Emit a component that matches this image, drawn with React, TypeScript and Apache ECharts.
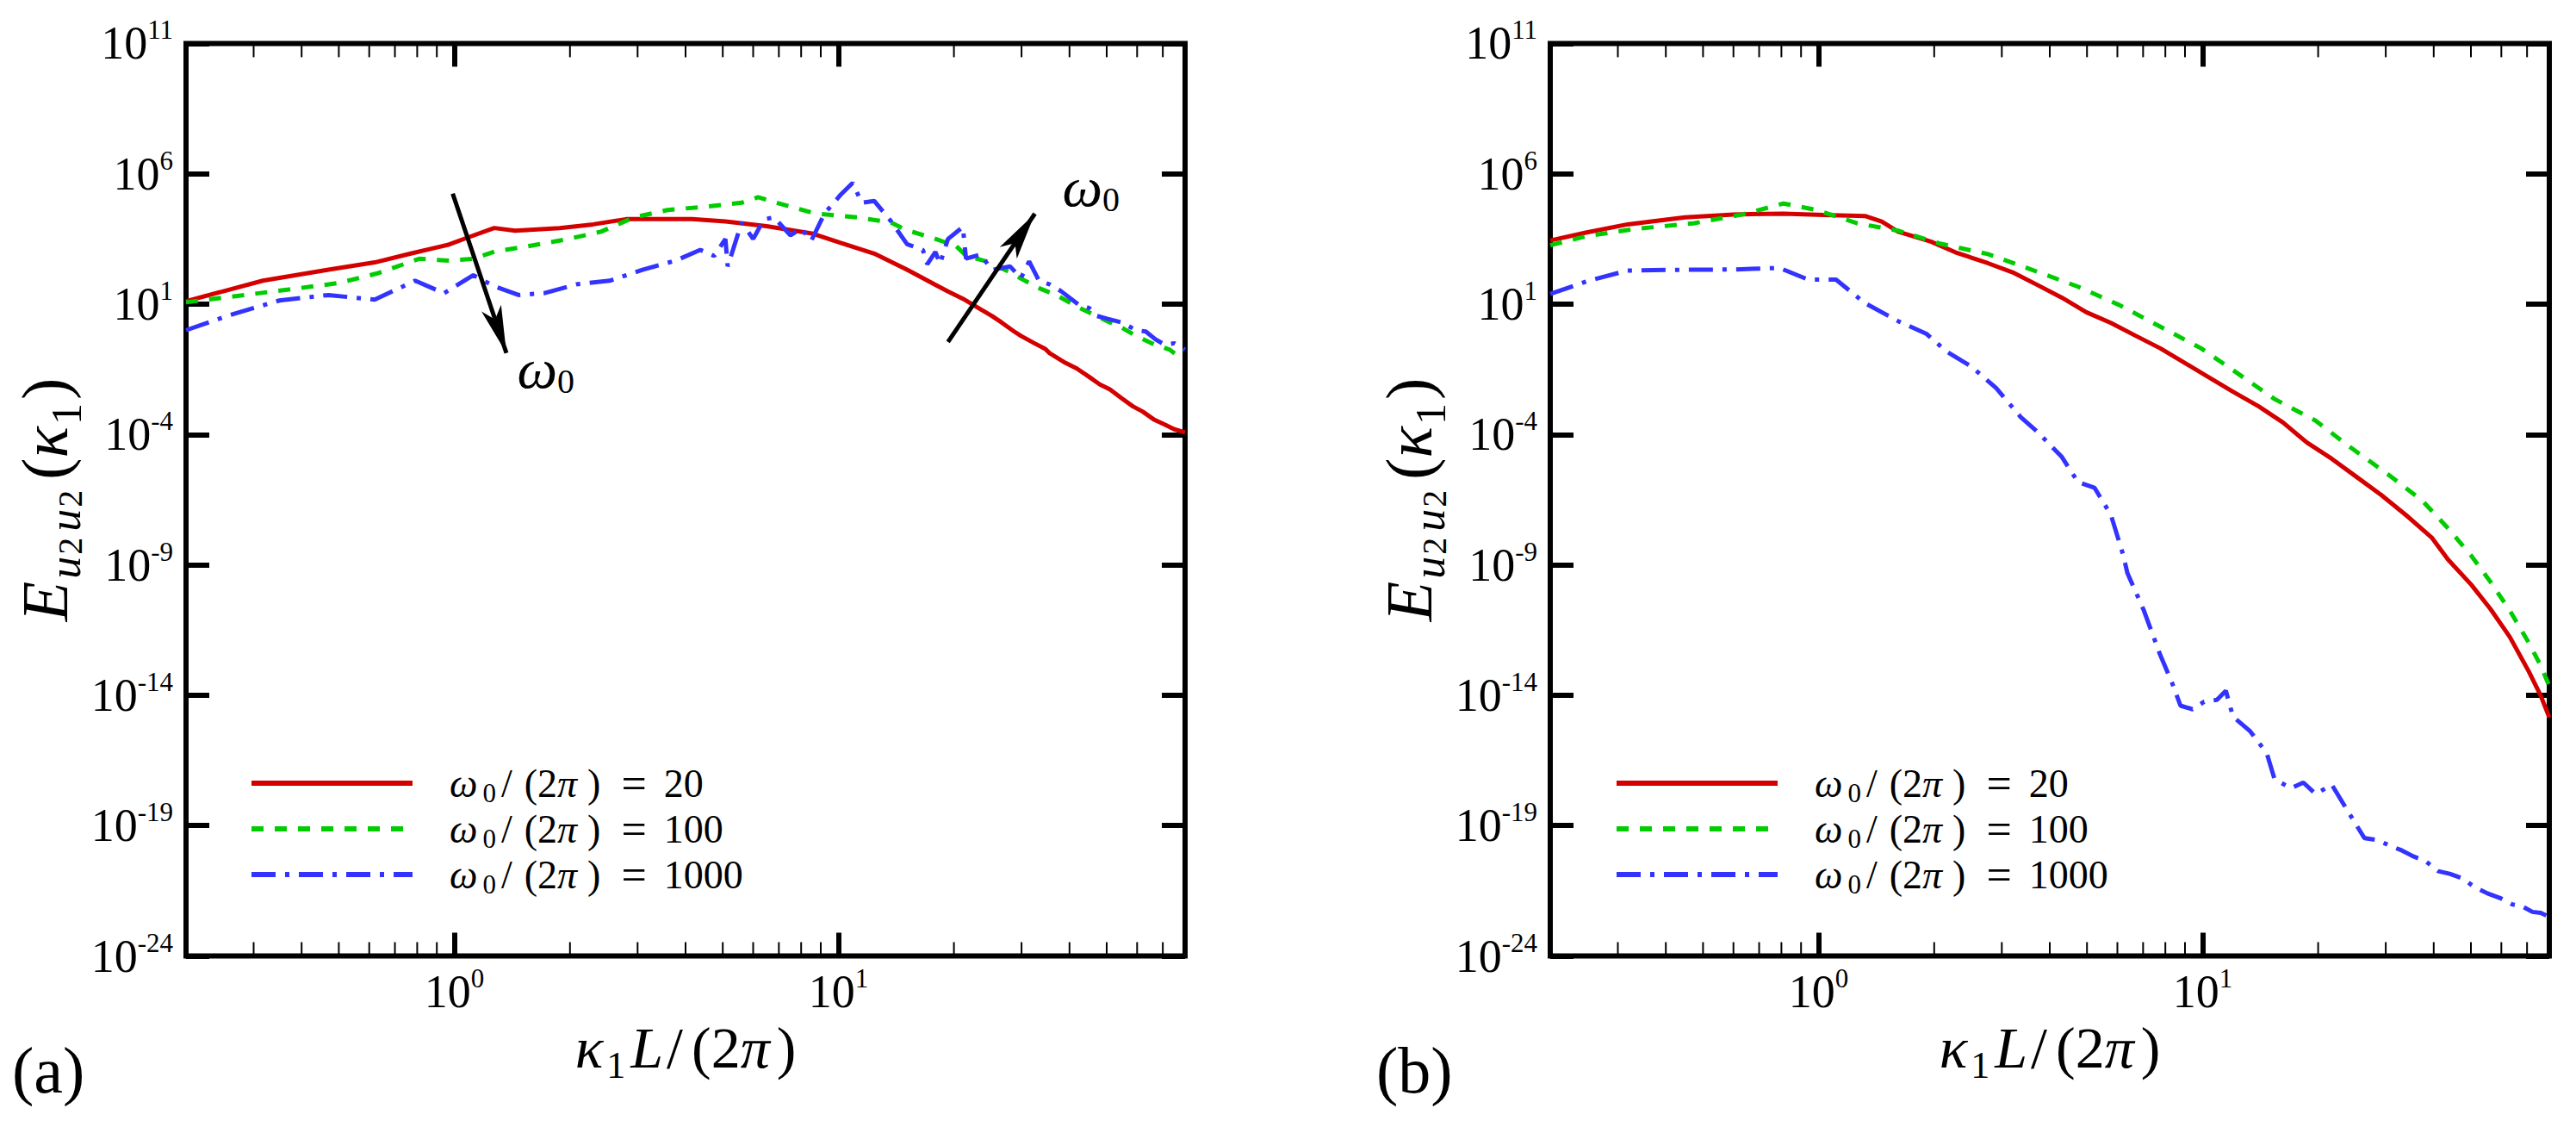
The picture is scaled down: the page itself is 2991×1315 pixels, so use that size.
import React, { useEffect, useRef } from "react";
import * as echarts from "echarts";

// legend values
const omegaRatios = [20, 100, 1000];
const seriesNames = omegaRatios.map((v) => `ω0/(2π) = ${v}`);
const colors = ["#d40000", "#00cc00", "#3333ff"];

// x values are kappa1 L/(2pi), y values are log10 of E_u2u2
// panel (a)
const aRedK = [0.2, 0.317, 0.47, 0.62, 0.77, 0.97, 1.09, 1.27, 1.44, 1.88, 2.3, 2.8, 3.41, 4.16, 5.08, 6.5, 8.53, 10.1, 12.4, 15.1, 17.8, 19.3, 21.1, 23.5, 25.1, 26.6, 28.7, 29.9, 32.4, 34.6, 35.5, 39.0, 41.8, 44.9, 48.0, 51.0, 54.7, 58.5, 62.0, 66.6, 71.0, 75.0, 80];
const aRedE = [1.11, 1.9, 2.32, 2.6, 2.94, 3.29, 3.57, 3.92, 3.82, 3.92, 4.06, 4.26, 4.26, 4.26, 4.17, 3.99, 3.71, 3.36, 2.94, 2.32, 1.76, 1.49, 1.21, 0.8, 0.55, 0.3, -0.05, -0.22, -0.5, -0.72, -0.88, -1.25, -1.47, -1.78, -2.08, -2.27, -2.61, -2.92, -3.12, -3.44, -3.63, -3.8, -3.92];

const aGreenK = [0.2, 0.26, 0.37, 0.5, 0.63, 0.81, 0.97, 1.12, 1.27, 1.55, 1.98, 2.41, 2.94, 3.59, 4.59, 5.6, 6.18, 7.17, 8.75, 11.2, 13.7, 15.0, 17.8, 20.3, 21.5, 24.8, 27.3, 29.9, 33.5, 36.8, 42.2, 47.0, 50.1, 54.7, 59.6, 66.6, 73.0, 76.8, 80];
const aGreenE = [1.07, 1.28, 1.56, 1.81, 2.18, 2.74, 2.67, 2.74, 3.01, 3.22, 3.5, 3.78, 4.33, 4.61, 4.75, 4.89, 5.1, 4.82, 4.47, 4.33, 4.13, 3.85, 3.52, 3.22, 2.86, 2.6, 2.3, 1.98, 1.6, 1.36, 0.88, 0.55, 0.35, 0.1, -0.22, -0.55, -0.75, -0.99, -1.0];

const aBlueK = [0.2, 0.26, 0.35, 0.47, 0.62, 0.79, 0.94, 1.12, 1.27, 1.47, 1.71, 2.08, 2.54, 3.09, 3.77, 4.37, 4.75, 5.08, 5.15, 5.6, 6.0, 6.4, 6.8, 7.5, 8.0, 8.5, 9.2, 10.1, 10.9, 11.5, 12.4, 13.7, 15.1, 16.6, 17.05, 17.9, 18.4, 19.3, 21.1, 21.5, 23.5, 25.1, 28.0, 29.9, 31.4, 33.3, 35.5, 38.0, 42.2, 45.0, 47.1, 50.1, 54.7, 59.6, 63.2, 67.0, 70.7, 75.0, 80];
const aBlueE = [0.0, 0.58, 1.14, 1.35, 1.17, 1.9, 1.42, 2.11, 1.69, 1.35, 1.42, 1.76, 1.9, 2.32, 2.67, 3.08, 2.85, 3.5, 2.45, 4.13, 3.5, 4.25, 4.33, 3.64, 3.9, 3.43, 4.47, 5.17, 5.65, 4.89, 4.96, 4.19, 3.3, 3.08, 2.53, 3.0, 2.55, 3.5, 3.96, 2.75, 2.9, 2.31, 2.45, 2.0, 2.64, 1.9, 1.76, 1.5, 0.99, 0.85, 0.55, 0.44, 0.3, 0.0, -0.05, -0.35, -0.55, -0.5, -0.75];

// panel (b)
const bRedK = [0.2, 0.249, 0.318, 0.449, 0.6, 0.81, 1.03, 1.32, 1.46, 1.61, 1.96, 2.27, 2.76, 3.2, 3.71, 4.3, 4.98, 5.77, 6.69, 7.75, 8.98, 10.4, 12.0, 14.0, 16.2, 18.7, 21.7, 25.2, 29.2, 33.8, 39.5, 43.6, 50.1, 56.2, 63.1, 70.8, 75.9, 80];
const bRedE = [3.44, 3.75, 4.06, 4.33, 4.44, 4.47, 4.42, 4.38, 4.17, 3.78, 3.4, 2.99, 2.57, 2.22, 1.74, 1.25, 0.69, 0.28, -0.21, -0.69, -1.25, -1.81, -2.36, -2.92, -3.54, -4.31, -4.93, -5.63, -6.32, -7.08, -7.95, -8.8, -9.76, -10.69, -11.76, -13.1, -14.0, -14.85];

const bGreenK = [0.2, 0.249, 0.335, 0.472, 0.634, 0.81, 0.99, 1.26, 1.61, 2.06, 2.76, 3.53, 4.74, 6.06, 7.75, 9.9, 12.0, 15.4, 19.7, 24.0, 30.6, 37.3, 43.6, 50.1, 56.2, 63.1, 70.8, 75.9, 80];
const bGreenE = [3.26, 3.61, 3.89, 4.1, 4.44, 4.86, 4.61, 4.1, 3.82, 3.33, 2.92, 2.36, 1.67, 0.97, 0.14, -0.69, -1.53, -2.64, -3.47, -4.44, -5.56, -6.53, -7.6, -8.65, -9.65, -10.75, -12.0, -12.85, -13.65];

const bBlueK = [0.2, 0.249, 0.318, 0.449, 0.6, 0.79, 0.94, 1.11, 1.32, 1.61, 1.91, 2.16, 2.5, 2.9, 3.36, 3.71, 4.3, 4.74, 5.23, 5.77, 6.21, 6.37, 7.02, 7.74, 8.34, 8.76, 9.42, 10.1, 10.9, 11.5, 12.0, 13.3, 14.7, 15.4, 17.0, 18.3, 19.7, 21.7, 24.0, 26.4, 28.5, 30.6, 33.0, 35.5, 38.0, 41.1, 44.0, 47.6, 51.0, 55.2, 60.0, 64.0, 68.0, 72.3, 76.0, 80];
const bBlueE = [1.39, 1.875, 2.29, 2.32, 2.33, 2.39, 1.94, 1.94, 1.04, 0.35, -0.14, -0.83, -1.39, -2.22, -3.33, -3.89, -4.86, -5.83, -6.04, -7.08, -8.61, -9.31, -10.72, -12.42, -13.55, -14.4, -14.54, -14.25, -14.18, -13.83, -14.82, -15.38, -16.23, -17.22, -17.57, -17.35, -17.79, -17.43, -18.49, -19.48, -19.55, -19.76, -19.95, -20.19, -20.35, -20.75, -20.85, -21.03, -21.35, -21.6, -21.8, -22.02, -22.1, -22.31, -22.35, -22.5];

// axis ticks
const minorTicks = [0.3, 0.4, 0.5, 0.6, 0.7, 0.8, 0.9, 2, 3, 4, 5, 6, 7, 8, 9, 20, 30, 40, 50, 60, 70];
const yMinExp = -24;
const yMaxExp = 11;
const yStepExp = 5;

// arrows and labels in panel (a): [k, log10 E], arrow tip at "to"
const arrowsA = [
  { from: [0.99, 5.24], to: [1.366, -0.875] },
  { from: [19.3, -0.45], to: [32.5, 4.47] },
];
const omegaLabelsA = [
  [1.73, -1.45],
  [45.5, 5.5],
];

const serif = "Liberation Serif";

const pair = (k: number[], e: number[]) => k.map((x, i) => [x, e[i]]);

const tickRich = {
  b: { fontFamily: serif, fontSize: 54, lineHeight: 62, color: "#000" },
  s: { fontFamily: serif, fontSize: 31, lineHeight: 31, verticalAlign: "top", color: "#000" },
};

const xTitleRich = {
  i: { fontFamily: serif, fontStyle: "italic", fontSize: 68, lineHeight: 84, color: "#000" },
  L: { fontFamily: serif, fontStyle: "italic", fontSize: 68, lineHeight: 84, color: "#000", padding: [0, 0, 0, 6] },
  n: { fontFamily: serif, fontSize: 68, lineHeight: 84, color: "#000" },
  sl: { fontFamily: serif, fontSize: 68, lineHeight: 84, color: "#000", padding: [0, 10, 0, 4] },
  c: { fontFamily: serif, fontSize: 68, lineHeight: 84, color: "#000", padding: [0, 0, 0, 8] },
  s: { fontFamily: serif, fontSize: 44, lineHeight: 46, verticalAlign: "bottom", color: "#000", padding: [0, 0, 0, 4] },
};

const yTitleRich = {
  i: { fontFamily: serif, fontStyle: "italic", fontSize: 76, lineHeight: 100, color: "#000" },
  n: { fontFamily: serif, fontSize: 76, lineHeight: 100, color: "#000" },
  o: { fontFamily: serif, fontSize: 76, lineHeight: 100, color: "#000", padding: [0, 0, 0, 8] },
  su: { fontFamily: serif, fontStyle: "italic", fontSize: 52, lineHeight: 56, verticalAlign: "bottom", color: "#000", padding: [0, 0, 0, 3] },
  sd: { fontFamily: serif, fontSize: 40, lineHeight: 42, verticalAlign: "bottom", color: "#000", padding: [0, 4, 0, 2] },
  s1: { fontFamily: serif, fontSize: 50, lineHeight: 56, verticalAlign: "bottom", color: "#000", padding: [0, 4, 0, 2] },
};

const legendFont = 46;
const legendRich = {
  g: { width: 38 },
  w: { fontFamily: serif, fontStyle: "italic", fontSize: legendFont, lineHeight: 54, color: "#000" },
  p: { fontFamily: serif, fontStyle: "italic", fontSize: legendFont, lineHeight: 54, color: "#000" },
  s: { fontFamily: serif, fontSize: 31, lineHeight: 34, verticalAlign: "bottom", color: "#000", padding: [0, 0, 0, 6] },
  sl: { fontFamily: serif, fontSize: legendFont, lineHeight: 54, color: "#000", padding: [0, 8, 0, 6] },
  n: { fontFamily: serif, fontSize: legendFont, lineHeight: 54, color: "#000", padding: [0, 0, 0, 6] },
  c: { fontFamily: serif, fontSize: legendFont, lineHeight: 54, color: "#000", padding: [0, 0, 0, 12] },
  e: { fontFamily: serif, fontSize: 52, lineHeight: 54, color: "#000", padding: [0, 20, 0, 24] },
  v: { fontFamily: serif, fontSize: legendFont, lineHeight: 54, color: "#000" },
};

const omegaRich = {
  w: { fontFamily: serif, fontStyle: "italic", fontSize: 66, lineHeight: 70, color: "#000" },
  s: { fontFamily: serif, fontSize: 40, lineHeight: 36, verticalAlign: "bottom", color: "#000" },
};

const xTickLabel = (v: number) => {
  const e = Math.log10(v);
  const r = Math.round(e);
  return Math.abs(e - r) < 1e-6 ? `{b|10}{s|${r}}` : "";
};

const xAxisFor = (gridIndex: number, position: "bottom" | "top") => ({
  type: "log",
  logBase: 10,
  gridIndex,
  position,
  min: 0.2,
  max: 80,
  axisLine: { show: false, onZero: false },
  axisTick: { show: true, inside: true, length: 27, lineStyle: { color: "#000", width: 6 } },
  axisLabel:
    position === "bottom"
      ? { show: true, margin: 10, formatter: xTickLabel, rich: tickRich }
      : { show: false },
  splitLine: { show: false },
  ...(position === "bottom"
    ? {
        name: "{i|κ}{s|1}{L|L}{sl|/}{n|(2}{i|π}{c|)}",
        nameLocation: "middle",
        nameGap: 55,
        nameTextStyle: { rich: xTitleRich },
      }
    : {}),
});

const yAxisFor = (gridIndex: number, position: "left" | "right") => ({
  type: "value",
  gridIndex,
  position,
  min: yMinExp,
  max: yMaxExp,
  interval: yStepExp,
  axisLine: { show: false, onZero: false },
  axisTick: { show: true, inside: true, length: 27, lineStyle: { color: "#000", width: 6 } },
  axisLabel:
    position === "left"
      ? { show: true, margin: 15, formatter: (v: number) => `{b|10}{s|${v}}`, rich: tickRich }
      : { show: false },
  splitLine: { show: false },
  ...(position === "left"
    ? {
        name: "{i|E}{su|u}{sd|2}{su|u}{sd|2}{o|(}{i|κ}{s1|1}{n|)}",
        nameLocation: "middle",
        nameGap: 104,
        nameTextStyle: { rich: yTitleRich },
      }
    : {}),
});

const lineTypes: any[] = ["solid", [14, 13], [28, 11, 5, 11]];

const lineSeries = (idx: number, k: number[], e: number[], axis: number, extra: any = {}) => ({
  type: "line",
  name: seriesNames[idx],
  xAxisIndex: axis,
  yAxisIndex: axis,
  data: pair(k, e),
  symbol: "none",
  showSymbol: false,
  silent: true,
  z: 3,
  lineStyle: { color: colors[idx], width: 5, type: lineTypes[idx] },
  itemStyle: { color: colors[idx] },
  ...extra,
});

// minor ticks of the log axis at 2..9 of each decade, top and bottom
const minorTickSeries = (axis: number) => ({
  type: "custom",
  xAxisIndex: axis,
  yAxisIndex: axis,
  silent: true,
  clip: false,
  z: 4,
  data: minorTicks.map((v) => [v, 0]),
  encode: { x: 0, y: 1 },
  renderItem: (params: any, api: any) => {
    const x = api.coord([api.value(0), api.value(1)])[0];
    const cs = params.coordSys;
    const bottom = cs.y + cs.height;
    return {
      type: "group",
      children: [
        { type: "line", shape: { x1: x, y1: bottom, x2: x, y2: bottom - 16 }, style: { stroke: "#000", lineWidth: 2 } },
        { type: "line", shape: { x1: x, y1: cs.y, x2: x, y2: cs.y + 16 }, style: { stroke: "#000", lineWidth: 2 } },
      ],
    };
  },
});

const legendFor = (left: number) => ({
  data: seriesNames,
  orient: "vertical",
  left,
  top: 878,
  itemWidth: 187,
  itemHeight: 6,
  itemGap: 0,
  selectedMode: false,
  lineStyle: { width: 6 },
  itemStyle: { color: "rgba(0,0,0,0)", borderWidth: 0 },
  formatter: (name: string) => {
    const v = name.split("= ")[1];
    return `{g| }{w|ω}{s|0}{sl|/}{n|(2}{p|π}{c|)}{e|=}{v|${v}}`;
  },
  textStyle: { rich: legendRich },
});

const App = () => {
  const chartRef = useRef<HTMLDivElement>(null);

  useEffect(() => {
    if (!chartRef.current) return;
    const chart = echarts.init(chartRef.current, undefined, { renderer: "svg" });

    const gridTop = 50.4;
    const gridHeight = 1059.1;

    const option: any = {
      animation: false,
      backgroundColor: "#fff",
      textStyle: { fontFamily: serif },
      grid: [
        { left: 216, top: gridTop, width: 1160, height: gridHeight, show: true, borderColor: "#000", borderWidth: 6, backgroundColor: "transparent" },
        { left: 1800, top: gridTop, width: 1160, height: gridHeight, show: true, borderColor: "#000", borderWidth: 6, backgroundColor: "transparent" },
      ],
      xAxis: [xAxisFor(0, "bottom"), xAxisFor(1, "bottom"), xAxisFor(0, "top"), xAxisFor(1, "top")],
      yAxis: [yAxisFor(0, "left"), yAxisFor(1, "left"), yAxisFor(0, "right"), yAxisFor(1, "right")],
      legend: [legendFor(284), legendFor(1869)],
      series: [
        lineSeries(0, aRedK, aRedE, 0, {
          markLine: {
            silent: true,
            symbol: ["none", "arrow"],
            lineStyle: { color: "#000", width: 5, type: "solid" },
            itemStyle: { color: "#000" },
            label: { show: false },
            data: arrowsA.map((a) => [
              { coord: a.from, symbol: "none" },
              { coord: a.to, symbol: "arrow", symbolSize: [18, 55] },
            ]),
          },
          markPoint: {
            silent: true,
            symbol: "circle",
            symbolSize: 0,
            itemStyle: { color: "rgba(0,0,0,0)" },
            label: { show: true, position: "inside", formatter: "{w|ω}{s|0}", rich: omegaRich },
            data: omegaLabelsA.map((c) => ({ coord: c })),
          },
        }),
        lineSeries(1, aGreenK, aGreenE, 0),
        lineSeries(2, aBlueK, aBlueE, 0),
        lineSeries(0, bRedK, bRedE, 1),
        lineSeries(1, bGreenK, bGreenE, 1),
        lineSeries(2, bBlueK, bBlueE, 1),
        minorTickSeries(0),
        minorTickSeries(1),
      ],
      graphic: [
        { type: "text", left: 14, top: 1204, style: { text: "(a)", fontSize: 76, fontFamily: serif, fill: "#000" } },
        { type: "text", left: 1598, top: 1204, style: { text: "(b)", fontSize: 76, fontFamily: serif, fill: "#000" } },
      ],
    };

    chart.setOption(option);

    const handleResize = () => chart.resize();
    window.addEventListener("resize", handleResize);
    return () => {
      window.removeEventListener("resize", handleResize);
      chart.dispose();
    };
  }, []);

  return (
    <div
      ref={chartRef}
      style={{ position: "absolute", left: 0, top: 0, width: 2991, height: 1315, background: "#fff" }}
    />
  );
};

export default App;
